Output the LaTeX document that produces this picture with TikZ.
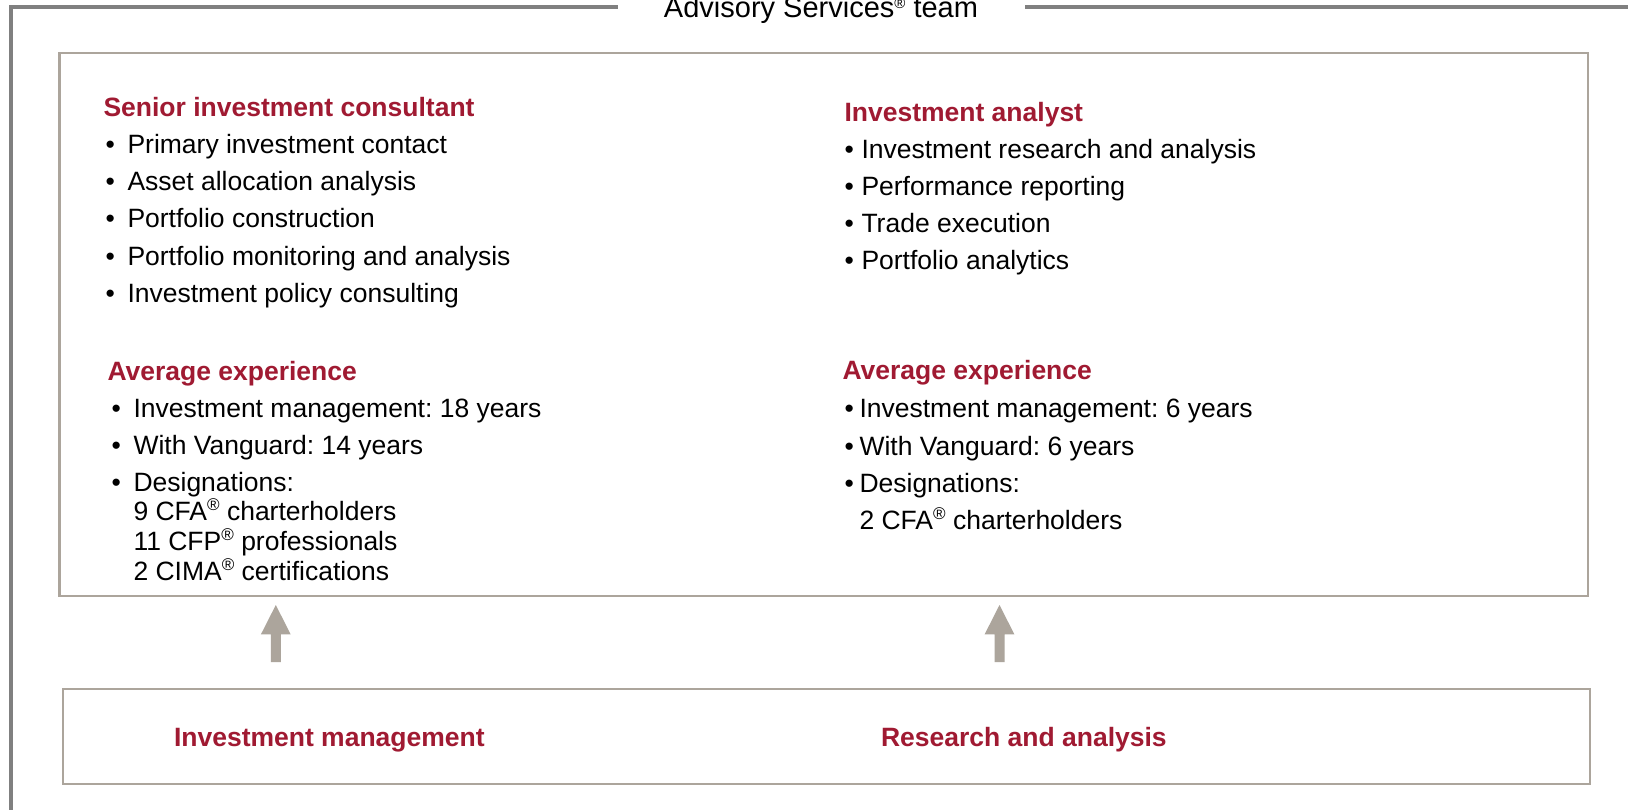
\documentclass[tikz,border=0pt]{standalone}
\usepackage{fontspec}
\setmainfont{Liberation Sans}
\frenchspacing
\definecolor{vgred}{RGB}{160,26,50}
\definecolor{panelline}{RGB}{172,165,156}
\definecolor{frameline}{RGB}{128,128,128}
% raised registered marks for body text and for the title
\newcommand\regsym{\raisebox{10pt}{\fontsize{17}{17}\selectfont ®}}
\newcommand\bigregsym{\raisebox{9pt}{\fontsize{15}{15}\selectfont ®}}

\begin{document}
\begin{tikzpicture}[x=1pt,y=-1pt,
  txt/.style={anchor=base west, inner sep=0pt, outer sep=0pt,
              font=\fontsize{26.5}{30}\selectfont},
  head/.style={txt, text=vgred, font=\fontsize{26.5}{30}\selectfont\bfseries},
  panel/.style={draw=panelline, line width=2.5pt, anchor=north west,
                inner sep=0pt, outer sep=0pt},
  frame/.style={draw=frameline, line width=4pt},
  arrowfill/.style={fill=panelline},
  pics/uparrow/.style={code={
    \fill[arrowfill] (-5,0) -- (-5,-27.7) -- (-14.85,-27.7) -- (0,-57)
      -- (14.85,-27.7) -- (5,-27.7) -- (5,0) -- cycle;}}]

\fill[white] (0,0) rectangle (1628,810);
\useasboundingbox (0,0) rectangle (1628,810);

% outer team frame with its title
\node[txt, anchor=base, font=\fontsize{29}{32}\selectfont] (title) at (821,17.5)
  {Advisory Services\bigregsym{} team};
\coordinate (frameL) at (617.7,7);
\coordinate (frameR) at (1025,7);
\draw[frame] (frameL) -- (11.3,7) -- (11.3,812);
\draw[frame] (frameR) -- (1630,7);

% role panel and source panel
\node[panel, minimum width=1528.3pt, minimum height=543pt] (roles) at (59.7,52.8) {};
\node[panel, line width=2.3pt, minimum width=1527.3pt, minimum height=95.3pt] (areas) at (62.7,689) {};

% block arrows from the sources up to the roles
\pic (upL) at (275.8,662) {uparrow};
\pic (upR) at (999.5,662) {uparrow};

% left column: senior investment consultant
\node[head] (h1) at (103.5,116.5) {Senior investment consultant};
\node[txt] (b1a) at (105.5,153.5) {•};
\node[txt] (t1a) at (127.5,153.5) {Primary investment contact};
\node[txt] (b1b) at (105.5,190.5) {•};
\node[txt] (t1b) at (127.5,190.5) {Asset allocation analysis};
\node[txt] (b1c) at (105.5,228) {•};
\node[txt] (t1c) at (127.5,228) {Portfolio construction};
\node[txt] (b1d) at (105.5,265.5) {•};
\node[txt] (t1d) at (127.5,265.5) {Portfolio monitoring and analysis};
\node[txt] (b1e) at (105.5,302.5) {•};
\node[txt] (t1e) at (127.5,302.5) {Investment policy consulting};

\node[head] (h2) at (107.5,380) {Average experience};
\node[txt] (b2a) at (111.5,417) {•};
\node[txt] (t2a) at (133.5,417) {Investment management: 18 years};
\node[txt] (b2b) at (111.5,454) {•};
\node[txt] (t2b) at (133.5,454) {With Vanguard: 14 years};
\node[txt] (b2c) at (111.5,491) {•};
\node[txt] (t2c) at (133.5,491) {Designations:};
\node[txt] (t2d) at (133.5,520) {9 CFA\regsym{} charterholders};
\node[txt] (t2e) at (133.5,550) {11 CFP\regsym{} professionals};
\node[txt] (t2f) at (133.5,580) {2 CIMA\regsym{} certifications};

% right column: investment analyst
\node[head] (h3) at (844.5,122) {Investment analyst};
\node[txt] (b3a) at (844.5,159) {•};
\node[txt] (t3a) at (861.5,159) {Investment research and analysis};
\node[txt] (b3b) at (844.5,196) {•};
\node[txt] (t3b) at (861.5,196) {Performance reporting};
\node[txt] (b3c) at (844.5,233) {•};
\node[txt] (t3c) at (861.5,233) {Trade execution};
\node[txt] (b3d) at (844.5,270) {•};
\node[txt] (t3d) at (861.5,270) {Portfolio analytics};

\node[head] (h4) at (842.5,379.5) {Average experience};
\node[txt] (b4a) at (844.5,417.5) {•};
\node[txt] (t4a) at (859.5,417.5) {Investment management: 6 years};
\node[txt] (b4b) at (844.5,455) {•};
\node[txt] (t4b) at (859.5,455) {With Vanguard: 6 years};
\node[txt] (b4c) at (844.5,492.5) {•};
\node[txt] (t4c) at (859.5,492.5) {Designations:};
\node[txt] (t4d) at (859.5,529) {2 CFA\regsym{} charterholders};

% source labels
\node[head] (s1) at (174,746.7) {Investment management};
\node[head] (s2) at (881,746.7) {Research and analysis};
\end{tikzpicture}
\end{document}
